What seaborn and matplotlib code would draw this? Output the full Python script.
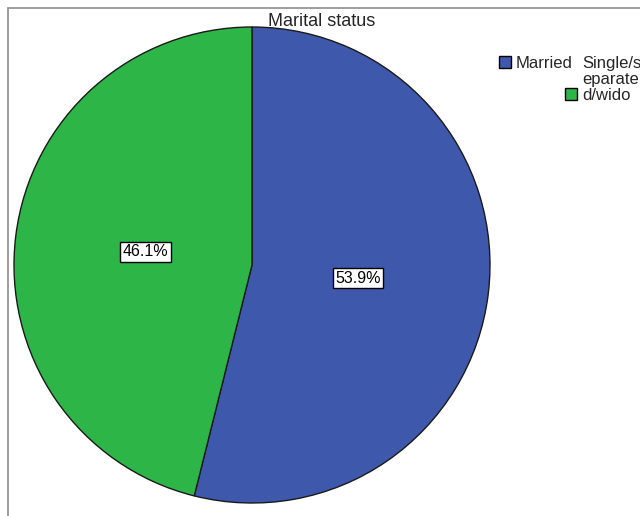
import matplotlib
matplotlib.use('Agg')
import matplotlib.pyplot as plt
import seaborn as sns
from matplotlib.patches import Rectangle

categories = ['Married', 'Single/separated/widowed']
legend_labels = ['Married', 'Single/s\neparate\nd/wido']
shares = [53.9, 46.1]
colors = ['#3E58AC', '#2EB548']

sns.set_theme(style='white')
plt.rcParams['font.family'] = ['Liberation Sans', 'DejaVu Sans']

fig = plt.figure(figsize=(6.4, 5.16), dpi=100)

# gray frame around the chart area (cropped at right/bottom)
fig.patches.append(Rectangle((8 / 640, -0.1), 1.2, 1 - 8 / 516 + 0.1,
                             transform=fig.transFigure, fill=False,
                             edgecolor='#8c8c8c', linewidth=1.2))

ax = fig.add_axes([14 / 640, 13 / 516, 476 / 640, 476 / 516])
wedges, texts, autotexts = ax.pie(
    shares, colors=colors, startangle=90, counterclock=False,
    autopct='%1.1f%%', pctdistance=0.45,
    wedgeprops=dict(edgecolor='#1a1a1a', linewidth=1.0),
    textprops=dict(fontsize=11.5, color='black'))
for t in autotexts:
    t.set_bbox(dict(boxstyle='square,pad=0.15', facecolor='white',
                    edgecolor='black', linewidth=1.0))
ax.set_xlim(-1.0, 1.0)
ax.set_ylim(-1.0, 1.0)
ax.set_aspect('equal')
for w in wedges:
    w.set_clip_on(False)

fig.text(322 / 640, 1 - 21 / 516, 'Marital status', ha='center', va='center',
         fontsize=13)

# legend: two entries laid out like the SPSS output
leg_kw = dict(loc='upper left', frameon=False, fontsize=12,
              handlelength=0.72, handleheight=0.72, handletextpad=0.3,
              borderpad=0, borderaxespad=0)
leg1 = fig.legend(wedges[:1], legend_labels[:1],
                  bbox_to_anchor=(499 / 640, 1 - 56 / 516), **leg_kw)
leg2 = fig.legend(wedges[1:], legend_labels[1:],
                  bbox_to_anchor=(565 / 640, 1 - 56 / 516), **leg_kw)
for leg in (leg1, leg2):
    for h in leg.legend_handles:
        h.set_edgecolor('black')
    for t in leg.texts:
        t.set_linespacing(1.08)
# align the handle of the wrapped label with its last line
for col in leg2._legend_handle_box.get_children():
    for item in col.get_children():
        for child in item.get_children():
            if hasattr(child, '_multilinebaseline'):
                child._multilinebaseline = False

fig.savefig('out.png', dpi=100)
